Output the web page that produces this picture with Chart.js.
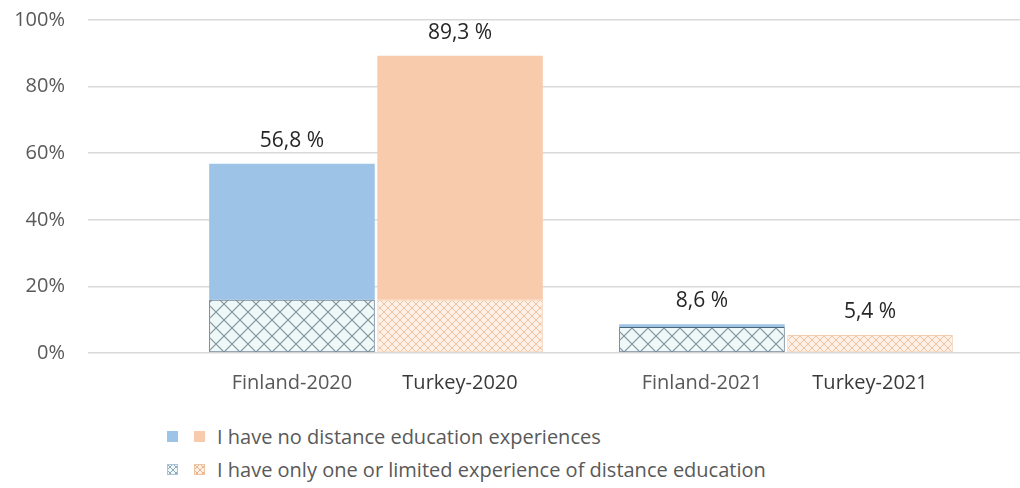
<!DOCTYPE html>
<html>
<head>
<meta charset="utf-8">
<script src="https://cdn.jsdelivr.net/npm/chart.js@4.4.0/dist/chart.umd.min.js"></script>
<style>
  html, body { margin: 0; padding: 0; background: #fff; }
  #wrap { position: relative; width: 1020px; height: 488px; font-family: "Open Sans", sans-serif; }
  #chart { position: absolute; left: 0; top: 0; }
  .legend-row { position: absolute; left: 167px; height: 24px; display: flex; align-items: center; color: #595959; font-size: 20px; white-space: nowrap; }
  .legend-row canvas { width: 11px; height: 11px; }
  .legend-row canvas.first { margin-right: 16px; }
  .legend-row canvas.second { margin-right: 12px; }
</style>
</head>
<body>
<div id="wrap">
  <canvas id="chart" width="1020" height="405"></canvas>
  <div class="legend-row" id="row0" style="top:424px"></div>
  <div class="legend-row" id="row1" style="top:457px"></div>
</div>
<script>
const years = ['2020', '2021'];
const countries = ['Finland', 'Turkey'];
// share of respondents (%), bottom part = limited experience, top part = none
const limitedFinland = [16.0, 7.8];
const noneFinland = [40.8, 0.8];
const limitedTurkey = [16.0, 5.4];
const noneTurkey = [73.3, 0.0];
const yTicks = [0, 20, 40, 60, 80, 100];
const seriesNames = [
  'I have no distance education experiences',
  'I have only one or limited experience of distance education'
];

const FONT = '"Open Sans", sans-serif';
const solidColors = ['#9DC3E6', '#F8CBAD'];

function makeHatch(size, bg, line, lw) {
  const c = document.createElement('canvas');
  c.width = size;
  c.height = size;
  const g = c.getContext('2d');
  g.fillStyle = bg;
  g.fillRect(0, 0, size, size);
  g.strokeStyle = line;
  g.lineWidth = lw;
  g.beginPath();
  g.moveTo(0, 0); g.lineTo(size, size);
  g.moveTo(size, 0); g.lineTo(0, size);
  g.stroke();
  return c;
}

const hatchTiles = [
  makeHatch(16, '#EFF8F8', '#80939A', 1.2),
  makeHatch(8, '#FDF1E7', '#EFC1A0', 1)
];

const ctx = document.getElementById('chart').getContext('2d');
const hatchFills = hatchTiles.map(t => ctx.createPattern(t, 'repeat'));

const fmt = v => v.toFixed(1).replace('.', ',') + ' %';
const limited = [limitedFinland, limitedTurkey];
const none = [noneFinland, noneTurkey];

const labelPlugin = {
  id: 'barLabels',
  afterDatasetsDraw(chart) {
    const { ctx, scales: { y }, chartArea } = chart;
    ctx.save();
    ctx.textAlign = 'center';
    ctx.textBaseline = 'middle';
    countries.forEach((country, ci) => {
      const meta = chart.getDatasetMeta(ci * 2 + 1);
      years.forEach((year, yi) => {
        const bar = meta.data[yi];
        const total = limited[ci][yi] + none[ci][yi];
        ctx.font = '21px ' + FONT;
        ctx.fillStyle = '#262626';
        ctx.fillText(fmt(total), bar.x, y.getPixelForValue(total) - 23);
        ctx.font = '20px ' + FONT;
        ctx.fillStyle = ci === 0 ? '#595959' : '#3A3A3A';
        ctx.fillText(country + '-' + year, bar.x, chartArea.bottom + 30);
      });
    });
    ctx.restore();
  }
};

new Chart(ctx, {
  type: 'bar',
  data: {
    labels: years,
    datasets: [
      {
        label: seriesNames[1], stack: 'fi', data: limitedFinland,
        backgroundColor: hatchFills[0], borderColor: '#4A6478', borderWidth: 1, borderSkipped: false
      },
      {
        label: seriesNames[0], stack: 'fi', data: noneFinland,
        backgroundColor: solidColors[0], borderColor: '#86AED6', borderWidth: 0
      },
      {
        label: seriesNames[1], stack: 'tr', data: limitedTurkey,
        backgroundColor: hatchFills[1], borderColor: '#F3CDB0', borderWidth: 1, borderSkipped: false
      },
      {
        label: seriesNames[0], stack: 'tr', data: noneTurkey,
        backgroundColor: solidColors[1], borderWidth: 0
      }
    ]
  },
  options: {
    responsive: false,
    animation: false,
    devicePixelRatio: 1,
    categoryPercentage: 0.82,
    barPercentage: 0.985,
    layout: { padding: { top: 20, bottom: 44, left: 0, right: 0 } },
    plugins: { legend: { display: false }, tooltip: { enabled: false } },
    scales: {
      x: {
        stacked: true,
        grid: { display: false },
        border: { display: false },
        ticks: { display: false }
      },
      y: {
        stacked: true,
        min: yTicks[0],
        max: yTicks[yTicks.length - 1],
        afterBuildTicks: s => { s.ticks = yTicks.map(v => ({ value: v })); },
        ticks: {
          padding: 23,
          color: '#595959',
          font: { family: FONT, size: 20 },
          callback: v => v + '%'
        },
        grid: { color: '#D9D9D9', lineWidth: 1.5, tickLength: 83 },
        border: { display: false },
        afterFit: s => { s.width = 171; s.paddingTop = 0; s.paddingBottom = 0; }
      },
      y2: {
        position: 'right',
        min: yTicks[0],
        max: yTicks[yTicks.length - 1],
        afterBuildTicks: s => { s.ticks = yTicks.map(v => ({ value: v })); },
        ticks: { display: false },
        grid: { drawOnChartArea: false, color: '#D9D9D9', lineWidth: 1.5, tickLength: 29 },
        border: { display: false },
        afterFit: s => { s.width = 29; s.paddingTop = 0; s.paddingBottom = 0; }
      }
    }
  },
  plugins: [labelPlugin]
});

// legend: one row per series, one swatch per country
function swatch(fill, cls, border) {
  const c = document.createElement('canvas');
  c.width = 11; c.height = 11;
  c.className = cls;
  const g = c.getContext('2d');
  g.fillStyle = fill;
  g.fillRect(0, 0, 11, 11);
  if (border) {
    g.strokeStyle = border;
    g.lineWidth = 1;
    g.strokeRect(0.5, 0.5, 10, 10);
  }
  return c;
}
const patCtx = document.createElement('canvas').getContext('2d');
const smallHatch = [makeHatch(6, '#EFF8F8', '#8FA8BC', 1), makeHatch(6, '#FDF1E7', '#E9B48C', 1)];
const row0 = document.getElementById('row0');
const row1 = document.getElementById('row1');
row0.appendChild(swatch(solidColors[0], 'first'));
row0.appendChild(swatch(solidColors[1], 'second'));
row0.appendChild(document.createTextNode(seriesNames[0]));
row1.appendChild(swatch(patCtx.createPattern(smallHatch[0], 'repeat'), 'first', '#A9C3D8'));
row1.appendChild(swatch(patCtx.createPattern(smallHatch[1], 'repeat'), 'second', '#F0C2A0'));
row1.appendChild(document.createTextNode(seriesNames[1]));
</script>
</body>
</html>
